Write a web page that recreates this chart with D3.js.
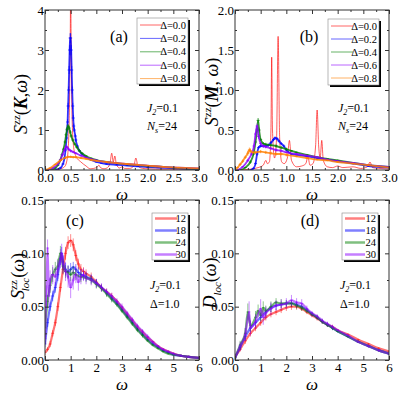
<!DOCTYPE html>
<html>
<head>
<meta charset="utf-8">
<script src="https://cdn.jsdelivr.net/npm/d3@7"></script>
<style>
body { margin: 0; background: #fff; }
svg { display: block; }
</style>
</head>
<body>
<svg width="399" height="393"></svg>
<script>
'use strict';

// ---- data: [omega, value, error] ----
const deltaLabels = ['Δ=0.0', 'Δ=0.2', 'Δ=0.4', 'Δ=0.6', 'Δ=0.8'];
const sizeLabels = ['12', '18', '24', '30'];

// (a) S^zz(K, w)
const kDelta00 = [[0,0],[0.2,0.01],[0.3,0.03],[0.38,0.08],[0.42,0.2],[0.45,0.5],[0.47,1.2],[0.49,3],[0.5,4.5],[0.51,3],[0.53,1.2],[0.56,0.55],[0.6,0.35],[0.7,0.2],[0.8,0.1],[0.88,0.03],[0.95,0.04],[1.02,0.08],[1.05,0.12],[1.08,0.06],[1.15,0.03],[1.22,0.06],[1.27,0.2],[1.3,0.42],[1.33,0.2],[1.36,0.35],[1.39,0.15],[1.45,0.05],[1.5,0.08],[1.55,0.04],[1.65,0.04],[1.73,0.1],[1.77,0.3],[1.81,0.1],[1.9,0.04],[2,0.03],[2.3,0.02],[2.6,0.02],[3,0.01]];
const kDelta02 = [[0.2,0,0],[0.3,0.05,0.01],[0.35,0.15,0.02],[0.38,0.3,0.03],[0.4,0.5,0.04],[0.42,0.8,0.05],[0.43,1,0.06],[0.44,1.2,0.07],[0.45,1.6,0.08],[0.46,2,0.09],[0.47,2.5,0.1],[0.48,3,0.12],[0.49,3.3,0.12],[0.5,3.3,0.12],[0.51,3,0.12],[0.52,2.5,0.1],[0.53,2,0.09],[0.54,1.6,0.08],[0.55,1.3,0.07],[0.56,1.1,0.06],[0.57,1,0.05],[0.59,0.85,0.04],[0.6,0.75,0.04],[0.63,0.6,0.03],[0.67,0.48,0.03],[0.72,0.4,0.02],[0.8,0.32,0.02],[0.9,0.25,0.02],[1,0.2,0.01],[1.1,0.17,0.01],[1.2,0.15,0.01],[1.4,0.13,0.01],[1.6,0.11,0.01],[1.8,0.09,0.01],[2,0.07,0.01],[2.2,0.06,0.01],[2.5,0.04,0.01],[2.8,0.03,0.01],[3,0.02,0.01]];
const kDelta04 = [[0.1,0,0],[0.2,0.05,0.01],[0.25,0.12,0.02],[0.3,0.25,0.03],[0.33,0.38,0.03],[0.36,0.52,0.04],[0.39,0.7,0.04],[0.41,0.88,0.05],[0.43,1.02,0.05],[0.45,1.1,0.05],[0.47,1.05,0.05],[0.49,0.95,0.05],[0.51,0.85,0.04],[0.54,0.75,0.04],[0.58,0.65,0.03],[0.62,0.57,0.03],[0.67,0.48,0.03],[0.72,0.42,0.02],[0.8,0.35,0.02],[0.9,0.29,0.02],[1,0.25,0.02],[1.2,0.2,0.01],[1.4,0.17,0.01],[1.6,0.14,0.01],[1.8,0.12,0.01],[2,0.1,0.01],[2.3,0.08,0.01],[2.6,0.05,0.01],[3,0.03,0.01]];
const kDelta06 = [[0.05,0,0],[0.15,0.05,0.01],[0.25,0.15,0.02],[0.3,0.25,0.03],[0.34,0.38,0.03],[0.38,0.5,0.04],[0.41,0.58,0.04],[0.43,0.57,0.04],[0.46,0.52,0.04],[0.5,0.48,0.04],[0.55,0.45,0.03],[0.6,0.42,0.03],[0.7,0.36,0.02],[0.8,0.31,0.02],[0.9,0.27,0.02],[1,0.24,0.02],[1.2,0.2,0.01],[1.4,0.17,0.01],[1.6,0.15,0.01],[1.8,0.13,0.01],[2,0.11,0.01],[2.3,0.08,0.01],[2.6,0.06,0.01],[3,0.04,0.01]];
const kDelta08 = [[0,0,0],[0.1,0.05,0.02],[0.2,0.14,0.02],[0.3,0.24,0.03],[0.4,0.31,0.03],[0.45,0.33,0.03],[0.5,0.33,0.03],[0.55,0.32,0.03],[0.6,0.32,0.03],[0.7,0.3,0.02],[0.8,0.28,0.02],[0.9,0.25,0.02],[1,0.23,0.02],[1.2,0.2,0.02],[1.4,0.17,0.01],[1.6,0.15,0.01],[1.8,0.13,0.01],[2,0.11,0.01],[2.3,0.08,0.01],[2.6,0.06,0.01],[3,0.04,0.01]];

// (b) S^zz(M, w)
const mDelta00 = [[0,0],[0.3,0.01],[0.45,0.03],[0.55,0.06],[0.6,0.12],[0.63,0.08],[0.67,0.1],[0.7,0.5],[0.715,1.41],[0.73,0.5],[0.77,0.15],[0.81,0.4],[0.84,1.67],[0.87,0.4],[0.91,0.1],[0.96,0.08],[1.02,0.15],[1.06,0.37],[1.1,0.12],[1.2,0.04],[1.3,0.05],[1.38,0.08],[1.42,0.17],[1.46,0.06],[1.52,0.08],[1.57,0.3],[1.6,0.75],[1.63,0.3],[1.66,0.15],[1.69,0.37],[1.72,0.12],[1.8,0.04],[1.9,0.03],[2,0.05],[2.1,0.03],[2.3,0.04],[2.45,0.02],[2.58,0.04],[2.63,0.1],[2.68,0.03],[2.8,0.02],[3,0.01]];
const mDelta02 = [[0.3,0,0],[0.36,0.02,0.01],[0.4,0.08,0.02],[0.43,0.2,0.02],[0.46,0.28,0.02],[0.5,0.3,0.02],[0.55,0.3,0.02],[0.6,0.3,0.02],[0.65,0.31,0.02],[0.7,0.34,0.02],[0.75,0.38,0.02],[0.78,0.4,0.02],[0.82,0.39,0.02],[0.86,0.36,0.02],[0.9,0.33,0.02],[0.95,0.3,0.02],[1,0.25,0.02],[1.05,0.22,0.01],[1.1,0.2,0.01],[1.2,0.19,0.01],[1.4,0.17,0.01],[1.6,0.15,0.01],[1.8,0.13,0.01],[2,0.11,0.01],[2.3,0.08,0.01],[2.6,0.05,0.01],[3,0.03,0.01]];
const mDelta04 = [[0.1,0,0],[0.2,0.03,0.01],[0.3,0.1,0.02],[0.36,0.2,0.02],[0.4,0.35,0.03],[0.43,0.5,0.03],[0.45,0.62,0.03],[0.47,0.5,0.03],[0.5,0.38,0.02],[0.55,0.33,0.02],[0.6,0.32,0.02],[0.7,0.31,0.02],[0.8,0.3,0.02],[0.9,0.28,0.02],[1,0.26,0.02],[1.1,0.24,0.01],[1.2,0.22,0.01],[1.4,0.19,0.01],[1.6,0.16,0.01],[1.8,0.14,0.01],[2,0.12,0.01],[2.3,0.09,0.01],[2.6,0.06,0.01],[3,0.04,0.01]];
const mDelta06 = [[0.05,0,0],[0.15,0.04,0.01],[0.25,0.12,0.02],[0.32,0.2,0.02],[0.37,0.3,0.03],[0.4,0.45,0.03],[0.43,0.55,0.03],[0.46,0.42,0.03],[0.5,0.33,0.02],[0.55,0.3,0.02],[0.6,0.29,0.02],[0.7,0.27,0.02],[0.8,0.25,0.02],[0.9,0.24,0.02],[1,0.22,0.01],[1.2,0.2,0.01],[1.4,0.18,0.01],[1.6,0.16,0.01],[1.8,0.13,0.01],[2,0.11,0.01],[2.3,0.09,0.01],[2.6,0.06,0.01],[3,0.04,0.01]];
const mDelta08 = [[0,0,0],[0.05,0.03,0.01],[0.1,0.07,0.02],[0.15,0.11,0.02],[0.2,0.16,0.02],[0.25,0.21,0.03],[0.28,0.25,0.03],[0.3,0.24,0.03],[0.35,0.22,0.02],[0.4,0.22,0.02],[0.5,0.23,0.02],[0.6,0.22,0.02],[0.7,0.21,0.02],[0.8,0.2,0.02],[0.9,0.2,0.02],[1,0.19,0.02],[1.2,0.17,0.01],[1.4,0.15,0.01],[1.6,0.13,0.01],[1.8,0.12,0.01],[2,0.1,0.01],[2.3,0.08,0.01],[2.6,0.06,0.01],[3,0.03,0.01]];

// (c) S^zz_loc(w), J2=0.1, Delta=1.0
const locNs12 = [[0,0.007,0.002],[0.1,0.01,0.002],[0.2,0.015,0.003],[0.3,0.025,0.003],[0.4,0.035,0.003],[0.5,0.05,0.004],[0.6,0.068,0.004],[0.7,0.085,0.005],[0.8,0.1,0.006],[0.9,0.11,0.006],[1,0.112,0.006],[1.1,0.108,0.006],[1.2,0.098,0.005],[1.3,0.09,0.005],[1.4,0.085,0.005],[1.5,0.083,0.004],[1.6,0.081,0.004],[1.8,0.078,0.004],[2,0.073,0.003],[2.2,0.068,0.003],[2.4,0.064,0.003],[2.6,0.06,0.003],[2.8,0.055,0.002],[3,0.049,0.002],[3.2,0.043,0.002],[3.4,0.037,0.002],[3.6,0.031,0.002],[3.8,0.026,0.002],[4,0.021,0.001],[4.2,0.017,0.001],[4.4,0.013,0.001],[4.6,0.01,0.001],[4.8,0.008,0.001],[5,0.006,0.001],[5.3,0.004,0.001],[5.6,0.003,0.001],[6,0.002,0.001]];
const locNs18 = [[0,0.015,0.003],[0.1,0.035,0.004],[0.2,0.05,0.004],[0.3,0.06,0.005],[0.4,0.068,0.005],[0.5,0.08,0.006],[0.6,0.095,0.006],[0.65,0.1,0.006],[0.7,0.092,0.006],[0.8,0.085,0.006],[0.9,0.083,0.006],[1,0.085,0.006],[1.1,0.087,0.005],[1.2,0.085,0.005],[1.3,0.082,0.005],[1.4,0.08,0.005],[1.5,0.079,0.004],[1.6,0.078,0.004],[1.8,0.076,0.004],[2,0.072,0.004],[2.2,0.068,0.003],[2.4,0.063,0.003],[2.6,0.058,0.003],[2.8,0.053,0.002],[3,0.047,0.002],[3.2,0.041,0.002],[3.4,0.035,0.002],[3.6,0.029,0.002],[3.8,0.024,0.002],[4,0.019,0.001],[4.2,0.015,0.001],[4.4,0.012,0.001],[4.6,0.009,0.001],[4.8,0.007,0.001],[5,0.005,0.001],[5.3,0.004,0.001],[5.6,0.003,0.001],[6,0.002,0.001]];
const locNs24 = [[0,0.03,0.005],[0.1,0.055,0.006],[0.2,0.07,0.007],[0.3,0.08,0.007],[0.4,0.085,0.007],[0.5,0.088,0.007],[0.6,0.1,0.007],[0.7,0.088,0.007],[0.8,0.083,0.006],[0.9,0.082,0.006],[1,0.08,0.006],[1.1,0.082,0.006],[1.2,0.08,0.005],[1.4,0.078,0.005],[1.6,0.077,0.004],[1.8,0.075,0.004],[2,0.071,0.004],[2.2,0.067,0.003],[2.4,0.062,0.003],[2.6,0.057,0.003],[2.8,0.052,0.002],[3,0.046,0.002],[3.2,0.04,0.002],[3.4,0.034,0.002],[3.6,0.028,0.002],[3.8,0.023,0.002],[4,0.018,0.001],[4.2,0.014,0.001],[4.4,0.011,0.001],[4.6,0.008,0.001],[4.8,0.006,0.001],[5,0.005,0.001],[5.3,0.004,0.001],[5.6,0.003,0.001],[6,0.002,0.001]];
const locNs30 = [[0,0.02,0.006],[0.05,0.06,0.01],[0.1,0.105,0.008],[0.15,0.06,0.01],[0.2,0.075,0.009],[0.3,0.08,0.009],[0.4,0.078,0.009],[0.5,0.085,0.009],[0.6,0.095,0.009],[0.65,0.1,0.009],[0.7,0.09,0.009],[0.8,0.083,0.009],[0.9,0.078,0.01],[1,0.068,0.01],[1.1,0.075,0.009],[1.2,0.08,0.008],[1.3,0.073,0.008],[1.4,0.078,0.007],[1.5,0.08,0.006],[1.6,0.077,0.006],[1.8,0.075,0.005],[2,0.072,0.004],[2.2,0.068,0.004],[2.4,0.064,0.003],[2.6,0.06,0.003],[2.8,0.055,0.003],[3,0.05,0.003],[3.2,0.044,0.002],[3.4,0.038,0.002],[3.6,0.032,0.002],[3.8,0.027,0.002],[4,0.022,0.002],[4.2,0.017,0.001],[4.4,0.013,0.001],[4.6,0.01,0.001],[4.8,0.008,0.001],[5,0.006,0.001],[5.3,0.004,0.001],[5.6,0.003,0.001],[6,0.002,0.001]];

// (d) D_loc(w), J2=0.1, Delta=1.0
const dlocNs12 = [[0,0.003,0.002],[0.2,0.01,0.002],[0.4,0.018,0.003],[0.6,0.025,0.003],[0.8,0.03,0.003],[1,0.035,0.003],[1.2,0.04,0.003],[1.4,0.043,0.003],[1.6,0.045,0.003],[1.8,0.047,0.003],[2,0.049,0.003],[2.2,0.05,0.003],[2.4,0.05,0.003],[2.6,0.048,0.002],[2.8,0.045,0.002],[3,0.042,0.002],[3.2,0.039,0.002],[3.4,0.036,0.002],[3.6,0.033,0.002],[3.8,0.031,0.002],[4,0.028,0.001],[4.4,0.024,0.001],[4.8,0.019,0.001],[5.2,0.015,0.001],[5.6,0.011,0.001],[6,0.008,0.001]];
const dlocNs18 = [[0,0.002,0.002],[0.2,0.012,0.003],[0.4,0.022,0.004],[0.6,0.03,0.004],[0.8,0.035,0.004],[1,0.04,0.004],[1.2,0.045,0.004],[1.4,0.049,0.004],[1.6,0.051,0.004],[1.8,0.052,0.003],[2,0.053,0.003],[2.2,0.053,0.003],[2.4,0.052,0.003],[2.6,0.05,0.003],[2.8,0.047,0.002],[3,0.043,0.002],[3.2,0.04,0.002],[3.4,0.036,0.002],[3.6,0.033,0.002],[3.8,0.03,0.002],[4,0.027,0.001],[4.4,0.022,0.001],[4.8,0.017,0.001],[5.2,0.013,0.001],[5.6,0.009,0.001],[6,0.006,0.001]];
const dlocNs24 = [[0,0.002,0.002],[0.2,0.014,0.004],[0.4,0.025,0.005],[0.5,0.045,0.008],[0.6,0.032,0.005],[0.8,0.04,0.006],[0.9,0.046,0.006],[1,0.042,0.005],[1.1,0.049,0.006],[1.2,0.046,0.005],[1.4,0.05,0.005],[1.6,0.054,0.004],[1.8,0.053,0.004],[2,0.053,0.003],[2.2,0.053,0.003],[2.4,0.051,0.003],[2.6,0.049,0.003],[2.8,0.046,0.002],[3,0.043,0.002],[3.2,0.04,0.002],[3.4,0.036,0.002],[3.6,0.033,0.002],[3.8,0.03,0.002],[4,0.027,0.001],[4.4,0.022,0.001],[4.8,0.017,0.001],[5.2,0.013,0.001],[5.6,0.009,0.001],[6,0.006,0.001]];
const dlocNs30 = [[0,0.002,0.002],[0.2,0.013,0.004],[0.4,0.024,0.006],[0.55,0.045,0.01],[0.6,0.03,0.007],[0.8,0.036,0.007],[1,0.048,0.009],[1.1,0.04,0.007],[1.2,0.044,0.006],[1.4,0.048,0.006],[1.6,0.051,0.005],[1.8,0.052,0.005],[2,0.053,0.005],[2.2,0.056,0.005],[2.4,0.054,0.004],[2.6,0.053,0.004],[2.8,0.048,0.003],[3,0.044,0.002],[3.2,0.041,0.002],[3.4,0.037,0.002],[3.6,0.034,0.002],[3.8,0.031,0.002],[4,0.028,0.001],[4.4,0.023,0.001],[4.8,0.017,0.001],[5.2,0.013,0.001],[5.6,0.009,0.001],[6,0.006,0.001]];

const colors = ['#ff0000', '#0000ff', '#008000', '#8c00ff', '#ff8000'];
const SERIF = 'Liberation Serif, Times New Roman, serif';

const svg = d3.select('svg')
	.attr('font-family', SERIF);

const panels = [
	{
		box: {left: 45, right: 199, top: 10, bottom: 170},
		xDomain: [0, 3], yDomain: [0, 4],
		xMajor: d3.range(0, 3.01, 0.5), xMinor: d3.range(0.25, 3, 0.5),
		yMajor: [0, 1, 2, 3, 4], yMinor: [0.5, 1.5, 2.5, 3.5],
		xFmt: d3.format('.1f'), yFmt: d3.format('d'),
		series: [kDelta00, kDelta02, kDelta04, kDelta06, kDelta08],
		names: deltaLabels, thinFirst: true,
		tag: '(a)', tagPos: [119, 42],
		notes: [['J', '2', '=0.1', 112], ['N', 's', '=24', 130]], notesX: 147,
		legend: {x: 137, y: 18, w: 51, h: 66, row: 13.4, line: 22, thick: false},
		ylabel: 'K', ylabelPos: [27, 104]
	},
	{
		box: {left: 235, right: 389, top: 10, bottom: 170},
		xDomain: [0, 3], yDomain: [0, 2],
		xMajor: d3.range(0, 3.01, 0.5), xMinor: d3.range(0.25, 3, 0.5),
		yMajor: [0, 0.5, 1, 1.5, 2], yMinor: [0.25, 0.75, 1.25, 1.75],
		xFmt: d3.format('.1f'), yFmt: d3.format('.1f'),
		series: [mDelta00, mDelta02, mDelta04, mDelta06, mDelta08],
		names: deltaLabels, thinFirst: true,
		tag: '(b)', tagPos: [309, 42],
		notes: [['J', '2', '=0.1', 112], ['N', 's', '=24', 130]], notesX: 338,
		legend: {x: 328, y: 19, w: 51, h: 66, row: 13, line: 22, thick: false},
		ylabel: 'M', ylabelPos: [218, 92]
	},
	{
		box: {left: 45, right: 199, top: 200, bottom: 360},
		xDomain: [0, 6], yDomain: [0, 0.15],
		xMajor: d3.range(0, 7), xMinor: d3.range(0.5, 6, 1),
		yMajor: [0, 0.05, 0.1, 0.15], yMinor: [0.025, 0.075, 0.125],
		xFmt: d3.format('d'), yFmt: d3.format('.2f'),
		series: [locNs12, locNs18, locNs24, locNs30],
		names: sizeLabels, thinFirst: false,
		tag: '(c)', tagPos: [75, 226],
		notes: [['J', '2', '=0.1', 289], ['Δ', '', '=1.0', 308]], notesX: 150,
		legend: {x: 152, y: 213, w: 36, h: 47, row: 12, line: 22, thick: true},
		ylabel: 'loc', ylabelPos: [24, 276]
	},
	{
		box: {left: 235, right: 389, top: 200, bottom: 360},
		xDomain: [0, 6], yDomain: [0, 0.15],
		xMajor: d3.range(0, 7), xMinor: d3.range(0.5, 6, 1),
		yMajor: [0, 0.05, 0.1, 0.15], yMinor: [0.025, 0.075, 0.125],
		xFmt: d3.format('d'), yFmt: d3.format('.2f'),
		series: [dlocNs12, dlocNs18, dlocNs24, dlocNs30],
		names: sizeLabels, thinFirst: false,
		tag: '(d)', tagPos: [310, 226],
		notes: [['J', '2', '=0.1', 289], ['Δ', '', '=1.0', 308]], notesX: 340,
		legend: {x: 342, y: 213, w: 36, h: 47, row: 12, line: 20, thick: true},
		ylabel: 'Dloc', ylabelPos: [216, 283]
	}
];

panels.forEach(drawPanel);

function drawPanel(p, pi) {
	const b = p.box;
	const x = d3.scaleLinear().domain(p.xDomain).range([b.left, b.right]);
	const y = d3.scaleLinear().domain(p.yDomain).range([b.bottom, b.top]);
	const g = svg.append('g');

	const clipId = 'clip' + pi;
	svg.append('clipPath').attr('id', clipId)
		.append('rect')
		.attr('x', b.left).attr('y', b.top)
		.attr('width', b.right - b.left).attr('height', b.bottom - b.top);

	const plot = g.append('g').attr('clip-path', 'url(#' + clipId + ')');
	const line = d3.line().x(d => x(d[0])).y(d => y(d[1])).curve(d3.curveMonotoneX);

	p.series.forEach((data, i) => {
		const c = colors[i];
		if (i === 0 && p.thinFirst) {
			plot.append('path').datum(data)
				.attr('d', line)
				.attr('fill', 'none').attr('stroke', c)
				.attr('stroke-opacity', 0.8)
				.attr('stroke-width', 0.8);
			return;
		}
		const eg = plot.append('g')
			.attr('stroke', c)
			.attr('stroke-opacity', p.legend.thick ? 0.45 : 0.7);
		eg.selectAll('line.bar').data(data).join('line')
			.attr('class', 'bar')
			.attr('x1', d => x(d[0])).attr('x2', d => x(d[0]))
			.attr('y1', d => y(d[1] - d[2])).attr('y2', d => y(d[1] + d[2]))
			.attr('stroke-width', 1);
		eg.selectAll('line.cap').data(data).join('line')
			.attr('class', 'cap')
			.attr('x1', d => x(d[0]) - 1.5).attr('x2', d => x(d[0]) + 1.5)
			.attr('y1', d => y(d[1])).attr('y2', d => y(d[1]))
			.attr('stroke-width', 1);
		plot.append('path').datum(data)
			.attr('d', line)
			.attr('fill', 'none').attr('stroke', c)
			.attr('stroke-opacity', p.legend.thick ? 0.55 : 0.8)
			.attr('stroke-width', p.legend.thick ? 2.2 : 1.8);
	});

	// frame
	g.append('rect')
		.attr('x', b.left).attr('y', b.top)
		.attr('width', b.right - b.left).attr('height', b.bottom - b.top)
		.attr('fill', 'none').attr('stroke', '#333').attr('stroke-width', 1);

	// inward ticks on all four sides
	const axes = [
		[d3.axisBottom(x), b.bottom, true, p.xMajor, p.xMinor, p.xFmt],
		[d3.axisTop(x), b.top, true, p.xMajor, p.xMinor, null],
		[d3.axisLeft(y), b.left, false, p.yMajor, p.yMinor, p.yFmt],
		[d3.axisRight(y), b.right, false, p.yMajor, p.yMinor, null]
	];
	axes.forEach(([ax, pos, horiz, major, minor, fmt]) => {
		const t = horiz ? `translate(0,${pos})` : `translate(${pos},0)`;
		const maj = g.append('g').attr('transform', t)
			.call(ax.tickValues(major).tickSizeInner(-4).tickSizeOuter(0)
				.tickPadding(horiz ? 3 : 1)
				.tickFormat(fmt ? fmt : () => ''));
		maj.select('.domain').remove();
		maj.attr('font-family', SERIF).attr('font-size', 13);
		maj.selectAll('line').attr('stroke', '#333');
		maj.selectAll('text').attr('fill', '#000').attr('font-family', SERIF);
		const mnr = g.append('g').attr('transform', t)
			.call(ax.tickValues(minor).tickSizeInner(-2).tickSizeOuter(0).tickFormat(() => ''));
		mnr.select('.domain').remove();
		mnr.selectAll('line').attr('stroke', '#333');
	});

	// panel tag
	g.append('text')
		.attr('x', p.tagPos[0]).attr('y', p.tagPos[1])
		.attr('text-anchor', 'middle')
		.attr('font-size', 16)
		.text(p.tag);

	// parameter notes
	p.notes.forEach(([sym, sub, rest, yy]) => {
		const t = g.append('text').attr('x', p.notesX).attr('y', yy).attr('font-size', 12);
		t.append('tspan').attr('font-style', sym === 'Δ' ? null : 'italic').text(sym);
		if (sub) t.append('tspan').attr('font-size', 8).attr('font-style', 'italic').attr('dy', 3).text(sub);
		t.append('tspan').attr('dy', sub ? -3 : 0).text(rest);
	});

	// legend
	const L = p.legend;
	g.append('rect')
		.attr('x', L.x + 2).attr('y', L.y + 2).attr('width', L.w).attr('height', L.h)
		.attr('fill', '#000');
	g.append('rect')
		.attr('x', L.x).attr('y', L.y).attr('width', L.w).attr('height', L.h)
		.attr('fill', '#fff').attr('stroke', '#888').attr('stroke-width', 0.6);
	p.names.forEach((name, i) => {
		const ly = L.y + (L.thick ? 5.5 : 7) + i * L.row;
		g.append('line')
			.attr('x1', L.x + 3).attr('x2', L.x + 3 + L.line)
			.attr('y1', ly).attr('y2', ly)
			.attr('stroke', colors[i])
			.attr('stroke-opacity', L.thick ? 0.5 : 0.6)
			.attr('stroke-width', L.thick ? 2.5 : 1);
		g.append('text')
			.attr('x', L.x + L.w - 2).attr('y', ly + 3.5)
			.attr('text-anchor', 'end')
			.attr('font-size', 10.5)
			.text(name);
	});

	// x axis label
	g.append('text')
		.attr('x', (b.left + b.right) / 2).attr('y', b.bottom + 30)
		.attr('text-anchor', 'middle')
		.attr('font-size', 17).attr('font-style', 'italic')
		.text('ω');

	// y axis label (rotated)
	const yl = g.append('text')
		.attr('transform', `translate(${p.ylabelPos[0]},${p.ylabelPos[1]}) rotate(-90)`)
		.attr('text-anchor', 'middle')
		.attr('font-size', 18);
	if (p.ylabel === 'K' || p.ylabel === 'M') {
		yl.append('tspan').attr('font-style', 'italic').text('S');
		yl.append('tspan').attr('font-size', 11).attr('dy', -7).text('zz');
		yl.append('tspan').attr('dy', 7).text('(');
		yl.append('tspan').attr('font-weight', 'bold').attr('font-style', 'italic').text(p.ylabel);
		yl.append('tspan').text(p.ylabel === 'K' ? ',' : ', ');
		yl.append('tspan').attr('font-style', 'italic').text('ω');
		yl.append('tspan').text(')');
	} else if (p.ylabel === 'loc') {
		yl.append('tspan').attr('font-style', 'italic').text('S');
		yl.append('tspan').attr('font-size', 11).attr('dy', -7).text('zz');
		yl.append('tspan').attr('font-size', 11).attr('font-style', 'italic').attr('dx', -11).attr('dy', 12).text('loc');
		yl.append('tspan').attr('dy', -5).text('(');
		yl.append('tspan').attr('font-style', 'italic').text('ω');
		yl.append('tspan').text(')');
	} else {
		yl.append('tspan').attr('font-style', 'italic').text('D');
		yl.append('tspan').attr('font-size', 11).attr('font-style', 'italic').attr('dy', 5).text('loc');
		yl.append('tspan').attr('dy', -5).text('(');
		yl.append('tspan').attr('font-style', 'italic').text('ω');
		yl.append('tspan').text(')');
	}
}
</script>
</body>
</html>
